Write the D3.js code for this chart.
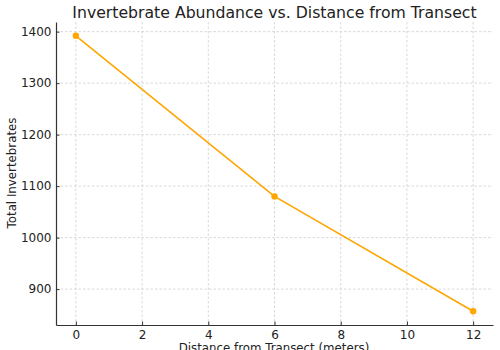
<!DOCTYPE html>
<html>
<head>
<meta charset="utf-8">
<script src="https://cdn.jsdelivr.net/npm/d3@7"></script>
<style>
  html, body { margin: 0; padding: 0; background: #fff; }
  svg { display: block; font-family: "DejaVu Sans", sans-serif; }
</style>
</head>
<body>
<svg id="chart" width="500" height="350"></svg>
<script>
// Survey data: invertebrate counts at increasing distance from the transect line
const distances = [0, 6, 12];
const totals = [1392, 1080, 857];
const xTicks = [0, 2, 4, 6, 8, 10, 12];
const yTicks = [900, 1000, 1100, 1200, 1300, 1400];

const W = 500, H = 350;
const margin = { left: 56, right: 7, top: 22, bottom: 25 };
const svg = d3.select("#chart");

// 5% padding around the data range on both axes
const xPad = (d3.max(distances) - d3.min(distances)) * 0.05;
const yPad = (d3.max(totals) - d3.min(totals)) * 0.05;

const x = d3.scaleLinear()
  .domain([d3.min(distances) - xPad, d3.max(distances) + xPad])
  .range([margin.left, W - margin.right]);
const y = d3.scaleLinear()
  .domain([d3.min(totals) - yPad, d3.max(totals) + yPad])
  .range([H - margin.bottom, margin.top]);

// Dashed grid
const grid = svg.append("g").attr("stroke", "#cfcfcf").attr("stroke-width", 0.8)
  .attr("stroke-dasharray", "2.5,2");
grid.selectAll("line.v").data(xTicks).join("line")
  .attr("x1", d => x(d)).attr("x2", d => x(d))
  .attr("y1", margin.top).attr("y2", H - margin.bottom);
grid.selectAll("line.h").data(yTicks).join("line")
  .attr("y1", d => y(d)).attr("y2", d => y(d))
  .attr("x1", margin.left).attr("x2", W - margin.right);

// Axes with inward ticks
const fmt = d3.format("d");
const xAxis = svg.append("g")
  .attr("transform", `translate(0,${H - margin.bottom})`)
  .call(d3.axisBottom(x).tickValues(xTicks).tickFormat(fmt)
    .tickSizeInner(-3.5).tickSizeOuter(0).tickPadding(5.5));
const yAxis = svg.append("g")
  .attr("transform", `translate(${margin.left},0)`)
  .call(d3.axisLeft(y).tickValues(yTicks).tickFormat(fmt)
    .tickSizeInner(-3.5).tickSizeOuter(0).tickPadding(4.5));

[xAxis, yAxis].forEach(g => {
  g.selectAll("text").attr("font-size", 12).attr("fill", "#222")
    .attr("font-family", "DejaVu Sans, sans-serif");
  g.selectAll("line").attr("stroke", "#333");
  g.select(".domain").attr("stroke", "#333").attr("stroke-width", 1.2);
});

// Data line and markers
const line = d3.line().x((d, i) => x(distances[i])).y(d => y(d));
svg.append("path").datum(totals)
  .attr("fill", "none").attr("stroke", "#ffa500").attr("stroke-width", 1.6)
  .attr("d", line);
svg.selectAll("circle.pt").data(totals).join("circle")
  .attr("cx", (d, i) => x(distances[i])).attr("cy", d => y(d))
  .attr("r", 3.2).attr("fill", "#ffa500");

// Titles
const cx = (margin.left + W - margin.right) / 2;
svg.append("text").attr("x", cx).attr("y", 17.5).attr("text-anchor", "middle")
  .attr("font-size", 15.7).attr("fill", "#222")
  .text("Invertebrate Abundance vs. Distance from Transect");
svg.append("text").attr("x", 274).attr("y", 352).attr("text-anchor", "middle")
  .attr("font-size", 11.8).attr("fill", "#222")
  .text("Distance from Transect (meters)");
svg.append("text")
  .attr("transform", `translate(16,173) rotate(-90)`)
  .attr("text-anchor", "middle").attr("font-size", 11.8).attr("fill", "#222")
  .text("Total Invertebrates");
</script>
</body>
</html>
